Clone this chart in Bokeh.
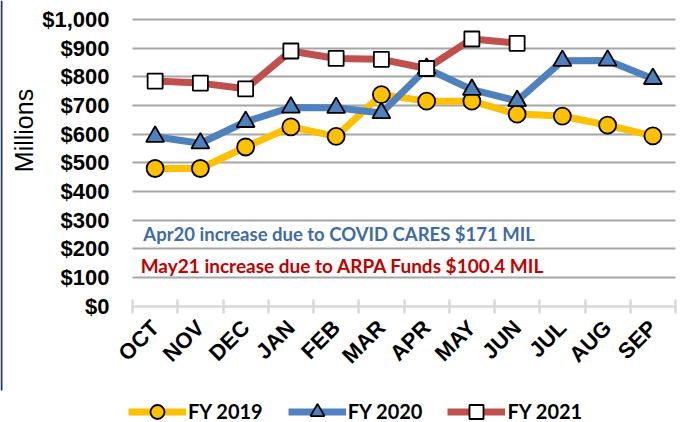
import numpy as np
from math import pi
from bokeh.plotting import figure
from bokeh.models import (Range1d, FixedTicker, NumeralTickFormatter, Legend, LegendItem, Label, BoxAnnotation)
from bokeh.embed import file_html
from bokeh.resources import INLINE

months = ["OCT", "NOV", "DEC", "JAN", "FEB", "MAR", "APR", "MAY", "JUN", "JUL", "AUG", "SEP"]
fy2019 = [480, 480, 555, 625, 592, 738, 715, 715, 670, 663, 631, 594]
fy2020 = [591, 568, 643, 693, 692, 674, 829, 755, 716, 856, 857, 793]
fy2021 = [785, 778, 758, 890, 864, 861, 829, 932, 917]
y_ticks = list(range(0, 1001, 100))
note1 = "Apr20 increase due to COVID CARES $171 MIL"
note2 = "May21 increase due to ARPA Funds $100.4 MIL"

YEL, BLU, RED = "#FFC000", "#4F81BD", "#C0504D"

# layout geometry (pixels): plot area 132..675 wide, $1,000 at y=19, $0 at y=305.5
W, H = 686, 422
PL, PR, PT, PB = 132.0, 675.0, 19.0, 305.5
n = len(months)
px_x = (PR - PL) / n
px_y = (PB - PT) / 1000.0
x0 = -0.5 - PL / px_x
x1 = -0.5 + (W - PL) / px_x
y1 = 1000 + PT / px_y
y0 = -(H - PB) / px_y

x_all = np.arange(n)
p = figure(width=W, height=H, output_backend="svg", toolbar_location=None,
           x_range=Range1d(x0, x1), y_range=Range1d(y0, y1),
           min_border_left=0, min_border_right=0, min_border_top=0, min_border_bottom=0)
p.outline_line_color = None
p.background_fill_color = "white"

# thin dark border on the left edge of the picture
p.add_layout(BoxAnnotation(left=0, right=2, bottom=32, top=H, left_units="screen", right_units="screen",
                           bottom_units="screen", top_units="screen", fill_color="#1F3864",
                           fill_alpha=1, line_color=None))

# grid
p.xgrid.visible = False
p.ygrid.ticker = FixedTicker(ticks=y_ticks[1:])
p.ygrid.cross_bounds = (-0.5, n - 0.5)
p.ygrid.grid_line_color = "#a6a6a6"
p.ygrid.grid_line_width = 2

# y axis pinned at the left edge of the plot area
p.yaxis.fixed_location = -0.5
p.yaxis.bounds = (0, 1000)
p.yaxis.ticker = FixedTicker(ticks=y_ticks)
p.yaxis.formatter = NumeralTickFormatter(format="$0,0")
p.yaxis.axis_line_color = None
p.yaxis.major_tick_line_color = None
p.yaxis.major_tick_out = 0
p.yaxis.major_tick_in = 0
p.yaxis.minor_tick_line_color = None
p.yaxis.major_label_text_font = "Liberation Sans"
p.yaxis.major_label_text_font_style = "bold"
p.yaxis.major_label_text_font_size = "22px"
p.yaxis.major_label_text_color = "black"
p.yaxis.major_label_standoff = 23

# x axis pinned at y = 0
p.xaxis.fixed_location = 0
p.xaxis.bounds = (-0.5, n - 0.5)
p.xaxis.ticker = FixedTicker(ticks=list(x_all), minor_ticks=list(x_all - 0.5) + [n - 0.5])
p.xaxis.major_label_overrides = {int(i): m for i, m in zip(x_all, months)}
p.xaxis.major_tick_line_color = None
p.xaxis.axis_line_color = "#d9d9d9"
p.xaxis.axis_line_width = 2.5
p.xaxis.minor_tick_line_color = "#d9d9d9"
p.xaxis.minor_tick_line_width = 2.5
p.xaxis.minor_tick_in = 7
p.xaxis.minor_tick_out = 7
p.xaxis.major_label_orientation = pi / 4
p.xaxis.major_label_text_font = "Liberation Sans"
p.xaxis.major_label_text_font_style = "bold"
p.xaxis.major_label_text_font_size = "22px"
p.xaxis.major_label_text_color = "black"
p.xaxis.major_label_standoff = 11

# series
l1 = p.line(x_all, fy2019, line_color=YEL, line_width=7)
s1 = p.scatter(x_all, fy2019, marker="circle", size=17, fill_color=YEL, line_color="black", line_width=1.8)
l2 = p.line(x_all, fy2020, line_color=BLU, line_width=7)
s2 = p.scatter(x_all, fy2020, marker="triangle", size=18, fill_color=BLU, line_color="black", line_width=1.8)
x21 = x_all[:len(fy2021)]
l3 = p.line(x21, fy2021, line_color=RED, line_width=7)
s3 = p.scatter(x21, fy2021, marker="square", size=15, fill_color="white", line_color="black", line_width=1.8)

# notes
p.add_layout(Label(x=-0.26, y=252, text=note1, text_font="Lato", text_font_style="bold",
                   text_font_size="18.5px", text_color="#3F6BA4", text_baseline="middle"))
p.add_layout(Label(x=-0.32, y=141, text=note2, text_font="Lato", text_font_style="bold",
                   text_font_size="19px", text_color="#C00000", text_baseline="middle"))

# y axis title
p.add_layout(Label(x=23, y=H - 130, x_units="screen", y_units="screen", text="Millions", angle=pi / 2,
                   text_font="Liberation Sans", text_font_size="25px", text_color="black",
                   text_align="center", text_baseline="middle"))

legend = Legend(items=[LegendItem(label="FY 2019", renderers=[l1, s1]),
                       LegendItem(label="FY 2020", renderers=[l2, s2]),
                       LegendItem(label="FY 2021", renderers=[l3, s3])],
                orientation="horizontal", location=(128, -6.5),
                glyph_width=58, glyph_height=35, label_height=35, label_standoff=2, spacing=25,
                padding=0, margin=0, border_line_color=None, background_fill_alpha=0,
                label_text_font="Lato", label_text_font_style="bold", label_text_font_size="20px",
                label_text_color="black")
p.add_layout(legend, "center")

open("out.html", "w").write(file_html(p, INLINE))
